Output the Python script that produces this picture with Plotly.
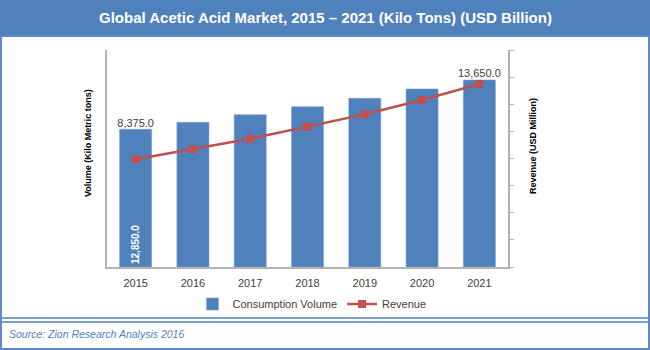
import plotly.graph_objects as go

# ---- data ----
years = ["2015", "2016", "2017", "2018", "2019", "2020", "2021"]
volume = [8375.0, 9124.0, 9937.0, 10793.0, 11692.0, 12687.0, 13650.0]   # Kilo Metric tons
revenue = [7940.0, 8680.0, 9460.0, 10350.0, 11260.0, 12310.0, 13490.0]  # USD Million
top_label_years = ["2015", "2021"]
top_label_values = [8375.0, 13650.0]
top_label_text = ["8,375.0", "13,650.0"]
inside_labels = ["12,850.0", "", "", "", "", "", ""]

# ---- layout constants ----
WIDTH, HEIGHT = 650, 350
L, R, T, B = 107, 508, 50, 267
PW, PH = R - L, B - T
VOL_MIN, VOL_MAX = -6359, 16860
REV_MIN, REV_MAX = 0, 16000

BLUE = "#4F81BD"
RED = "#C0504D"
TXT = "#404040"
AXIS = "#B3B3B3"
FONT = "Liberation Sans"


def px(x):
    return (x - L) / PW


def py(y):
    return (B - y) / PH


fig = go.Figure()

fig.add_trace(go.Bar(
    x=years,
    y=[v - VOL_MIN for v in volume],
    base=VOL_MIN,
    name="Consumption Volume",
    marker=dict(color=BLUE, line=dict(color="#7FA3D3", width=0.6)),
    width=0.56,
    text=inside_labels,
    textposition="inside",
    insidetextanchor="start",
    textangle=-90,
    insidetextfont=dict(family=FONT, size=10, color="white", weight="bold"),
    hoverinfo="x+name",
))

fig.add_trace(go.Scatter(
    x=top_label_years,
    y=top_label_values,
    mode="text",
    text=top_label_text,
    textposition="top center",
    textfont=dict(family=FONT, size=11, color=TXT),
    showlegend=False,
    hoverinfo="skip",
))

fig.add_trace(go.Scatter(
    x=years,
    y=revenue,
    name="Revenue",
    mode="lines+markers",
    line=dict(color=RED, width=2.5),
    marker=dict(symbol="square", size=8, color=RED),
    yaxis="y2",
))

shapes = [
    # title band
    dict(type="rect", xref="paper", yref="paper", x0=px(0), x1=px(650), y0=py(36), y1=py(0),
         fillcolor=BLUE, line=dict(width=0), layer="below"),
    # outer frame
    dict(type="rect", xref="paper", yref="paper", x0=px(1), x1=px(649), y0=py(349), y1=py(36),
         fillcolor="rgba(0,0,0,0)", line=dict(color="#5B8BC8", width=2), layer="below"),
    # double separator line
    dict(type="line", xref="paper", yref="paper", x0=px(1), x1=px(649), y0=py(318), y1=py(318),
         line=dict(color=BLUE, width=1.5)),
    dict(type="line", xref="paper", yref="paper", x0=px(1), x1=px(649), y0=py(322), y1=py(322),
         line=dict(color=BLUE, width=1.5)),
]

annotations = [
    dict(text="Global Acetic Acid Market, 2015 – 2021 (Kilo Tons) (USD Billion)",
         xref="paper", yref="paper", x=px(325), y=py(18), xanchor="center", yanchor="middle",
         showarrow=False, font=dict(family=FONT, size=15, color="white", weight="bold")),
    dict(text="Volume (Kilo Metric tons)", xref="paper", yref="paper", x=px(88), y=py(143),
         xanchor="center", yanchor="middle", textangle=-90, showarrow=False,
         font=dict(family=FONT, size=9, color="#000000", weight="bold")),
    dict(text="Revenue (USD Million)", xref="paper", yref="paper", x=px(533), y=py(146),
         xanchor="center", yanchor="middle", textangle=-90, showarrow=False,
         font=dict(family=FONT, size=9, color="#000000", weight="bold")),
    dict(text="<i>Source: Zion Research Analysis 2016</i>", xref="paper", yref="paper",
         x=px(7), y=py(334), xanchor="left", yanchor="middle", showarrow=False,
         font=dict(family=FONT, size=10.5, color=BLUE)),
]

fig.update_layout(
    width=WIDTH, height=HEIGHT,
    margin=dict(l=L, r=WIDTH - R, t=T, b=HEIGHT - B, pad=0),
    paper_bgcolor="white", plot_bgcolor="white",
    font=dict(family=FONT, size=11, color=TXT),
    bargap=0.44,
    showlegend=True,
    legend=dict(orientation="h", x=px(312), xanchor="center", y=py(304), yanchor="middle",
                font=dict(family=FONT, size=11, color=TXT), bgcolor="rgba(0,0,0,0)",
                itemwidth=30, traceorder="normal"),
    xaxis=dict(type="category", showline=True, linecolor=AXIS, linewidth=1.5,
               ticks="outside", ticklen=5, tickcolor="rgba(0,0,0,0)",
               showgrid=False, tickfont=dict(family=FONT, size=11, color=TXT)),
    yaxis=dict(range=[VOL_MIN, VOL_MAX], showline=True, linecolor=AXIS, linewidth=1.5,
               ticks="", showticklabels=False, showgrid=False, zeroline=False),
    yaxis2=dict(range=[REV_MIN, REV_MAX], overlaying="y", side="right", dtick=2000,
                showline=True, linecolor=AXIS, linewidth=1.5, ticks="outside", ticklen=4,
                tickcolor=AXIS, showticklabels=False, showgrid=False, zeroline=False),
    shapes=shapes,
    annotations=annotations,
)

fig.write_html("out.html")
